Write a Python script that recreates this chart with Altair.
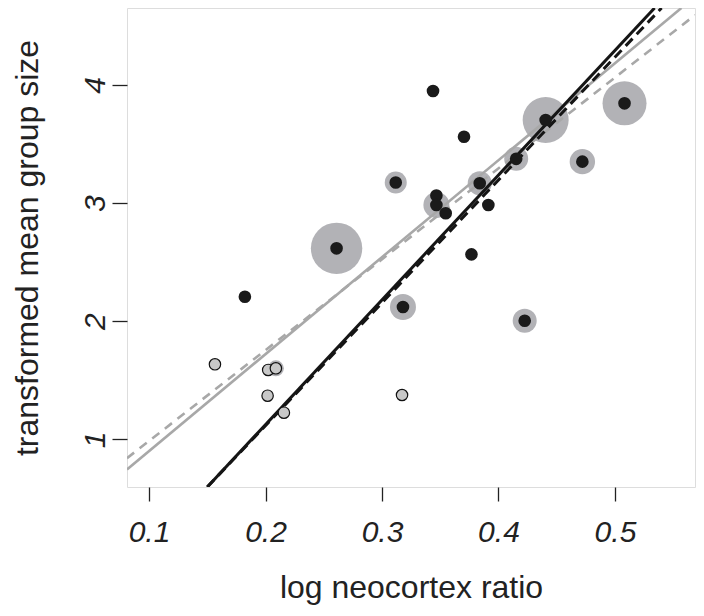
import altair as alt
import pandas as pd

# dark points (species with brain data): log neocortex ratio, transformed group size
dark_x = [0.1823, 0.2610, 0.3180, 0.3118, 0.3438, 0.3467, 0.3467, 0.3547, 0.3704,
          0.3768, 0.3839, 0.3913, 0.4152, 0.4225, 0.4405, 0.4720, 0.5082]
dark_y = [2.207, 2.617, 2.120, 3.174, 3.949, 3.064, 2.984, 2.914, 3.562,
          2.566, 3.168, 2.984, 3.375, 2.004, 3.704, 3.351, 3.845]
# halo radius (weight) per dark point, 0 = none
dark_w = [0, 25.7, 13, 11, 0, 0, 13, 0, 0, 0, 12, 0, 12, 12, 23, 12.7, 22]

# light points (imputed)
light_x = [0.1566, 0.2023, 0.2089, 0.2018, 0.2158, 0.3172]
light_y = [1.635, 1.587, 1.601, 1.369, 1.225, 1.375]
light_w = [0, 0, 8, 0, 0, 0]

# fitted lines (end points read at the frame)
lines = {
    "gray_dashed": ([0.0811, 0.5687], [0.840, 4.592]),
    "gray_solid": ([0.0811, 0.5570], [0.745, 4.652]),
    "black_dashed": ([0.1500, 0.5400], [0.596, 4.652]),
    "black_solid": ([0.1500, 0.5340], [0.596, 4.652]),
}
line_style = {
    "gray_dashed": ("#a8a8a8", 2.6, [9, 7]),
    "gray_solid": ("#a8a8a8", 2.6, []),
    "black_dashed": ("#151515", 3.0, [10, 6]),
    "black_solid": ("#151515", 3.0, []),
}

FONT = "Liberation Sans"
XDOM = [0.0811, 0.5687]
YDOM = [0.596, 4.652]

xenc = alt.X("x:Q", scale=alt.Scale(domain=XDOM, nice=False, zero=False),
             axis=alt.Axis(values=[0.1, 0.2, 0.3, 0.4, 0.5], format=".1f",
                           title="log neocortex ratio", grid=False, domain=False,
                           tickSize=14, tickColor="#222", tickWidth=1.3,
                           labelFont=FONT, labelFontSize=30, labelFontStyle="italic",
                           labelColor="#222", labelPadding=40, labelBaseline="alphabetic",
                           labelFlush=False,
                           titleFont=FONT, titleFontSize=32, titleFontWeight="normal",
                           titleColor="#222", titleX=284, titleY=110,
                           titleBaseline="alphabetic", titleAlign="center"))
yenc = alt.Y("y:Q", scale=alt.Scale(domain=YDOM, nice=False, zero=False),
             axis=alt.Axis(values=[1, 2, 3, 4], format="d",
                           title="transformed mean group size", grid=False, domain=False,
                           tickSize=15, tickColor="#222", tickWidth=1.3,
                           labelFont=FONT, labelFontSize=30, labelFontStyle="italic",
                           labelColor="#222", labelAngle=270, labelAlign="center",
                           labelBaseline="alphabetic", labelPadding=8, labelFlush=False,
                           titleFont=FONT, titleFontSize=32, titleFontWeight="normal",
                           titleColor="#222", titleAngle=270, titleX=-90, titleY=239.5,
                           titleBaseline="alphabetic", titleAlign="center"))

halo_rows = [{"x": x, "y": y, "s": (2 * w) ** 2}
             for x, y, w in zip(dark_x + light_x, dark_y + light_y, dark_w + light_w) if w > 0]
halo_df = pd.DataFrame(halo_rows)
dark_df = pd.DataFrame({"x": dark_x, "y": dark_y})
light_df = pd.DataFrame({"x": light_x, "y": light_y})

halos = alt.Chart(halo_df).mark_circle(color="#b2b2b6", opacity=1).encode(
    x=xenc, y=yenc, size=alt.Size("s:Q", scale=None))

line_layers = []
for name, (lx, ly) in lines.items():
    col, w, dash = line_style[name]
    df = pd.DataFrame({"x": lx, "y": ly})
    kw = dict(color=col, strokeWidth=w, clip=True)
    if dash:
        kw["strokeDash"] = dash
    line_layers.append(alt.Chart(df).mark_line(**kw).encode(x=xenc, y=yenc))

light = alt.Chart(light_df).mark_circle(size=130, color="#c8c8c8", opacity=1,
                                        stroke="#111", strokeWidth=1.2).encode(x=xenc, y=yenc)
dark = alt.Chart(dark_df).mark_circle(size=160, color="#1a1a1a", opacity=1).encode(x=xenc, y=yenc)

chart = alt.layer(halos, *line_layers, light, dark).properties(
    width=568, height=479,
    padding={"left": 119, "top": 0, "right": 1, "bottom": 125},
    autosize=alt.AutoSizeParams(type="none"),
).configure_view(stroke="#222", strokeWidth=1.5).configure(background="white")

chart.save("out.html", embed_options={"renderer": "svg", "actions": False})
